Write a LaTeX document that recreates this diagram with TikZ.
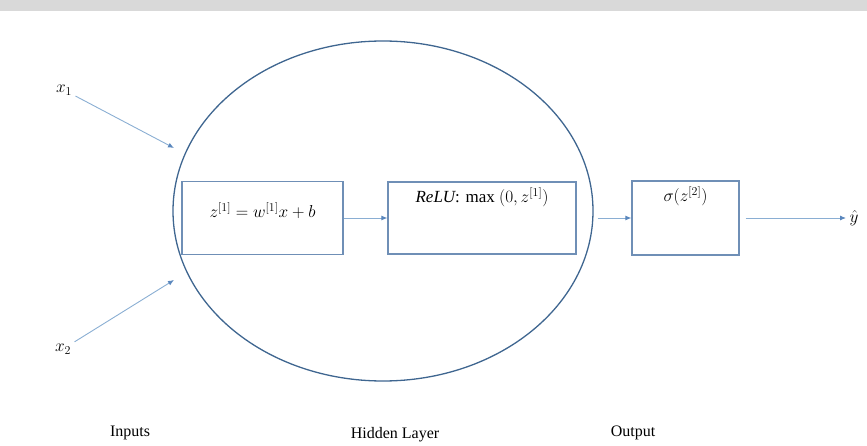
\documentclass[tikz,border=0pt]{standalone}
\usepackage{fontspec}
\setmainfont{Liberation Serif}
\usepackage{xcolor}
\usetikzlibrary{arrows.meta,shapes.geometric}
\definecolor{ringblue}{HTML}{3F6690}
\definecolor{boxblue}{HTML}{6F8FB6}
\definecolor{arrblue}{HTML}{8AAED3}
\definecolor{tipblue}{HTML}{5A87BD}
\begin{document}
\begin{tikzpicture}[x=1pt,y=-1pt,font=\fontsize{17}{20}\selectfont,box/.style={draw=boxblue,line width=1.2pt,inner sep=0pt},arr/.style={draw=arrblue,line width=0.9pt,-{Latex[length=6pt,width=5pt,color=tipblue]}},layercap/.style={font=\fontsize{16}{19}\selectfont}]
\useasboundingbox (0,0) rectangle (867,446);
\fill[gray!30] (0,0) rectangle (867,11);
\node[ellipse,draw=ringblue,line width=1.3pt,minimum width=420pt,minimum height=340pt] (hid) at (383,211) {};
\node[box,minimum width=161pt,minimum height=73pt,label={[anchor=center,yshift=-30pt]north:$z^{[1]}=w^{[1]}x+b$}] (lin) at (262.5,218) {};
\node[box,minimum width=188pt,minimum height=72pt,label={[anchor=center,yshift=-16pt]north:$\mathit{ReLU}$: max $(0,z^{[1]})$}] (relu) at (482,218) {};
\node[box,minimum width=107pt,minimum height=74pt,label={[anchor=center,yshift=-16pt]north:$\sigma(z^{[2]})$}] (sig) at (685.5,218) {};
\node (x1) at (64,90) {$x_1$};
\node (x2) at (63,349) {$x_2$};
\node (yhat) at (854,218) {$\hat{y}$};
\coordinate (in1) at (174,148);
\coordinate (in2) at (174,280);
\draw[arr] (x1) -- (in1);
\draw[arr] (x2) -- (in2);
\draw[arr] (lin) -- (relu);
\draw[arr] ([xshift=4pt]hid.east |- sig.west) -- (sig.west);
\draw[arr] ([xshift=6pt]sig.east) -- (yhat);
\node[layercap] (inp) at (130,433) {Inputs};
\node[layercap] (hidcap) at (395,435) {Hidden Layer};
\node[layercap] (outcap) at (633,433) {Output};
\end{tikzpicture}
\end{document}
